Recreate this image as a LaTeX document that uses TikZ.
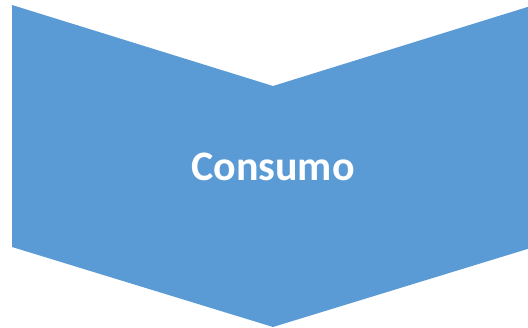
\documentclass[tikz,border=0pt]{standalone}
\usepackage{fontspec}
\setmainfont{Carlito}
\definecolor{chev}{HTML}{5B9BD5}
\begin{document}
\begin{tikzpicture}[x=1pt,y=-1pt,
  chevshape/.style={fill=chev,draw=none},
  label/.style={text=white,font=\bfseries\fontsize{42}{46}\selectfont}]
\useasboundingbox (0,0) rectangle (528,328);
\fill[chevshape] (12,5) -- (273,86) -- (534,5) -- (534,247) -- (273,327) -- (12,247) -- cycle;
\node[label] (t) at (273,167) {Consumo};
\end{tikzpicture}
\end{document}
